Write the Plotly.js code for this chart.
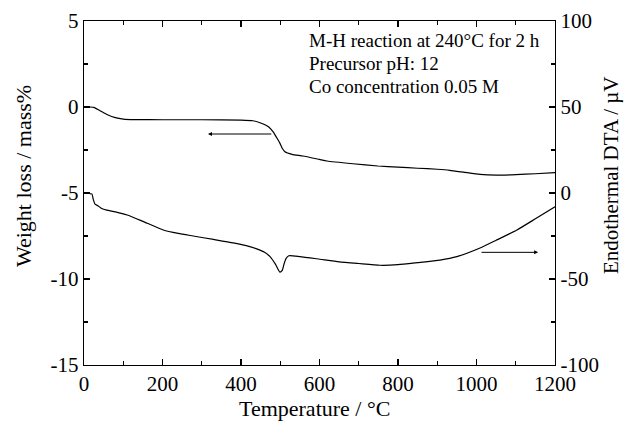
<!DOCTYPE html>
<html>
<head>
<meta charset="utf-8">
<script src="https://cdn.plot.ly/plotly-3.0.1.min.js"></script>
<style>html,body{margin:0;padding:0;background:#fff;}#chart{width:625px;height:421px;}</style>
</head>
<body>
<div id="chart"></div>
<script>
// TG curve (left axis, mass %)
const tgTemp = [0, 15, 25, 40, 60, 80, 100, 130, 200, 300, 400, 430, 450, 470, 482, 490, 499, 505, 512, 530, 558, 600, 619, 685, 749, 800, 850, 900, 932, 970, 1009, 1050, 1100, 1150, 1200];
const tgMass = [0, 0, -0.02, -0.2, -0.45, -0.62, -0.7, -0.73, -0.74, -0.74, -0.76, -0.8, -0.93, -1.15, -1.45, -1.75, -2.1, -2.4, -2.6, -2.75, -2.85, -3.05, -3.14, -3.3, -3.43, -3.5, -3.56, -3.62, -3.68, -3.8, -3.92, -3.96, -3.93, -3.88, -3.82];
// DTA curve (right axis, µV)
const dtaTemp = [15, 20, 24, 28, 36, 45, 58, 80, 110, 150, 202, 240, 278, 330, 380, 420, 440, 460, 474, 488, 499, 505, 510, 515, 522, 550, 601, 650, 700, 754, 800, 850, 907, 950, 1009, 1050, 1103, 1150, 1200];
const dtaSignal = [-0.5, -0.5, -4, -6.5, -7.5, -9, -10, -11, -12.8, -16.5, -21.5, -23.5, -25, -27, -29, -31, -32.5, -34.5, -37, -41.5, -46, -45, -41, -38, -36.5, -37, -38.5, -40, -41, -42, -41.7, -40.5, -39, -37, -32, -27.5, -21.5, -15, -8];
// Axis ticks
const xTicks = [0, 200, 400, 600, 800, 1000, 1200];
const yTicks = [-15, -10, -5, 0, 5];
const y2Ticks = [-100, -50, 0, 50, 100];
const noteLines = ["M-H reaction at 240°C for 2 h", "Precursor pH: 12", "Co concentration 0.05 M"];
const xTitle = "Temperature / °C";
const yTitle = "Weight loss / mass%";
const y2Title = "Endothermal DTA / µV";

const font = "Liberation Serif, Times New Roman, serif";
const traces = [
  {x: tgTemp, y: tgMass, type: "scatter", mode: "lines", line: {color: "#000", width: 1.2, shape: "spline", smoothing: 0.5}, yaxis: "y", hoverinfo: "skip"},
  {x: dtaTemp, y: dtaSignal, type: "scatter", mode: "lines", line: {color: "#000", width: 1.2, shape: "spline", smoothing: 0.5}, yaxis: "y2", hoverinfo: "skip"}
];
const axisCommon = {
  showgrid: false, zeroline: false, showline: true, linecolor: "#000", linewidth: 1.2,
  ticks: "inside", ticklen: 6, tickwidth: 1.2, tickcolor: "#000",
  tickfont: {family: font, size: 21, color: "#000"}
};
const notePos = [0.9433, 0.8765, 0.8096];
const annotations = noteLines.map((t, i) => ({
  xref: "paper", yref: "paper", x: 0.4735, y: notePos[i], xanchor: "left", yanchor: "middle",
  showarrow: false, text: t, font: {family: font, size: 19, color: "#000"}
}));
annotations.push(
  {xref: "paper", yref: "paper", x: 0.4904, y: -0.125, xanchor: "center", yanchor: "middle",
   showarrow: false, text: xTitle, font: {family: font, size: 22, color: "#000"}},
  {xref: "paper", yref: "paper", x: -0.1295, y: 0.5494, xanchor: "center", yanchor: "middle", textangle: -90,
   showarrow: false, text: yTitle, font: {family: font, size: 22, color: "#000"}},
  {xref: "paper", yref: "paper", x: 1.1189, y: 0.552, xanchor: "center", yanchor: "middle", textangle: -90,
   showarrow: false, text: y2Title, font: {family: font, size: 21, color: "#000"}},
  {xref: "x", yref: "y", axref: "x", ayref: "y", x: 316, y: -1.57, ax: 481, ay: -1.57,
   showarrow: true, arrowhead: 2, arrowsize: 0.8, arrowwidth: 1, arrowcolor: "#000", text: ""},
  {xref: "x", yref: "y", axref: "x", ayref: "y", x: 1157, y: -8.45, ax: 1009, ay: -8.45,
   showarrow: true, arrowhead: 2, arrowsize: 0.8, arrowwidth: 1, arrowcolor: "#000", text: ""}
);
const layout = {
  width: 625, height: 421,
  margin: {l: 84, r: 70, t: 21, b: 56},
  paper_bgcolor: "#fff", plot_bgcolor: "#fff",
  showlegend: false,
  xaxis: Object.assign({}, axisCommon, {
    range: [0, 1200], tickvals: xTicks, ticktext: xTicks.map(String), mirror: "ticks",
    minor: {dtick: 100, ticks: "inside", ticklen: 4, tickwidth: 1.2, tickcolor: "#000"}
  }),
  yaxis: Object.assign({}, axisCommon, {
    range: [-15, 5], tickvals: yTicks, ticktext: yTicks.map(String), mirror: true,
    minor: {dtick: 2.5, ticks: "inside", ticklen: 4, tickwidth: 1.2, tickcolor: "#000"}
  }),
  yaxis2: Object.assign({}, axisCommon, {
    range: [-100, 100], tickvals: y2Ticks, ticktext: y2Ticks.map(String), overlaying: "y", side: "right",
    minor: {dtick: 25, ticks: "inside", ticklen: 4, tickwidth: 1.2, tickcolor: "#000"}
  }),
  annotations: annotations
};
Plotly.newPlot("chart", traces, layout, {displayModeBar: false, staticPlot: true});
</script>
</body>
</html>
